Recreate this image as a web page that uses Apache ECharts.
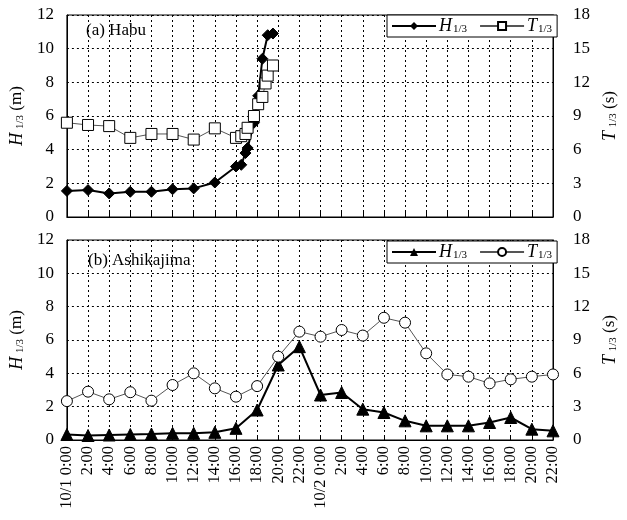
<!DOCTYPE html>
<html><head><meta charset="utf-8">
<script src="https://cdn.jsdelivr.net/npm/echarts@6/dist/echarts.min.js"></script>
<style>html,body{margin:0;padding:0;background:#fff}#c{width:627px;height:520px}</style>
</head><body><div id="c"></div>
<script>
// x tick labels (every 2 hours, 10/1 0:00 to 10/2 22:00)
const tickLabels = ['10/1 0:00','2:00','4:00','6:00','8:00','10:00','12:00','14:00','16:00','18:00','20:00','22:00',
  '10/2 0:00','2:00','4:00','6:00','8:00','10:00','12:00','14:00','16:00','18:00','20:00','22:00'];
// (a) Habu  (hours since 10/1 0:00)
const habuHTime = [0,2,4,6,8,10,12,14,16,16.5,16.9,17.1,17.7,18.1,18.5,19.0,19.5];
const habuH     = [1.55,1.6,1.4,1.5,1.5,1.65,1.7,2.05,3.0,3.1,3.8,4.1,5.6,7.2,9.4,10.8,10.9];
const habuTTime = [0,2,4,6,8,10,12,14,16,16.5,16.9,17.1,17.7,18.1,18.5,18.8,19.0,19.5];
const habuT     = [8.4,8.2,8.1,7.05,7.4,7.4,6.9,7.9,7.05,7.2,7.4,7.95,9.0,10.05,10.7,11.9,12.6,13.5];
// (b) Ashikajima
const ashiTime = [0,2,4,6,8,10,12,14,16,18,20,22,24,26,28,30,32,34,36,38,40,42,44,46];
const ashiH = [0.33,0.27,0.3,0.33,0.36,0.4,0.4,0.46,0.7,1.8,4.5,5.6,2.7,2.85,1.85,1.65,1.15,0.85,0.85,0.85,1.05,1.35,0.65,0.55];
const ashiT = [3.5,4.35,3.66,4.3,3.54,4.95,6.0,4.65,3.9,4.85,7.5,9.75,9.3,9.9,9.4,11.0,10.56,7.8,5.9,5.7,5.1,5.46,5.7,5.9];

const pairs = (xs, ys) => xs.map((x, i) => [x, ys[i]]);
const FONT = 'Liberation Serif';
const rich = {
  i: {fontFamily: FONT, fontStyle: 'italic', fontSize: 18, color: '#000'},
  s: {fontFamily: FONT, fontSize: 11, color: '#000', padding: [7, 0, 0, 1]},
  n: {fontFamily: FONT, fontSize: 17, color: '#000'}
};
const dotted = {color: '#000', width: 1, type: [2, 3]};

function xAxis(gi, labels) {
  return {
    type: 'value', gridIndex: gi, min: 0, max: 46, interval: 2,
    axisLine: {show: true, lineStyle: {color: '#000', width: 1}},
    axisTick: {show: true, inside: true, length: 5, lineStyle: {color: '#000'}},
    splitLine: {show: true, lineStyle: dotted},
    axisLabel: labels ? {
      show: true, rotate: 90, fontFamily: FONT, fontSize: 16.5, color: '#000', margin: 6,
      formatter: v => tickLabels[Math.round(v / 2)] || ''
    } : {show: false}
  };
}
function yLeft(gi) {
  return {
    type: 'value', gridIndex: gi, min: 0, max: 12, interval: 2, position: 'left',
    name: '{i|H}{s| 1/3}{n| (m)}', nameLocation: 'middle', nameGap: 37, nameRotate: 90,
    nameTextStyle: {rich},
    axisLine: {show: true, lineStyle: {color: '#000'}},
    axisTick: {show: false},
    splitLine: {show: true, lineStyle: dotted},
    axisLabel: {fontFamily: FONT, fontSize: 17, color: '#000', margin: 13}
  };
}
function yRight(gi) {
  return {
    type: 'value', gridIndex: gi, min: 0, max: 18, interval: 3, position: 'right',
    name: '{i|T}{s| 1/3}{n| (s)}', nameLocation: 'middle', nameGap: 46, nameRotate: 90,
    nameTextStyle: {rich},
    axisLine: {show: true, lineStyle: {color: '#000'}},
    axisTick: {show: false},
    splitLine: {show: false},
    axisLabel: {fontFamily: FONT, fontSize: 17, color: '#000', margin: 20}
  };
}
const legendNames = {
  'Habu H': '{i|H}{s|1/3}', 'Habu T': '{i|T}{s|1/3}',
  'Ashi H': '{i|H}{s|1/3}', 'Ashi T': '{i|T}{s|1/3}'
};
function legend(top, names) {
  return {
    data: names, left: 387, top: top, orient: 'horizontal',
    itemWidth: 44, itemHeight: 10, itemGap: 12,
    backgroundColor: '#fff', borderColor: '#000', borderWidth: 1, padding: [2, 5, 2, 4],
    formatter: n => legendNames[n],
    textStyle: {rich, padding: [0, 0, 0, -2]}
  };
}
const hLine = {color: '#000', width: 2};
const tLine = {color: '#555', width: 1};

const chart = echarts.init(document.getElementById('c'), null, {renderer: 'canvas'});
chart.setOption({
  animation: false,
  backgroundColor: '#fff',
  grid: [
    {left: 66, right: 74, top: 15, height: 202, show: true, borderColor: '#000', borderWidth: 1, backgroundColor: 'transparent'},
    {left: 66, right: 74, top: 240, height: 200, show: true, borderColor: '#000', borderWidth: 1, backgroundColor: 'transparent'}
  ],
  xAxis: [xAxis(0, false), xAxis(1, true)],
  yAxis: [yLeft(0), yRight(0), yLeft(1), yRight(1)],
  legend: [legend(15, ['Habu H', 'Habu T']), legend(241, ['Ashi H', 'Ashi T'])],
  graphic: [
    {type: 'text', left: 86, top: 22, style: {text: '(a) Habu', font: '17px "Liberation Serif"', fill: '#000'}},
    {type: 'text', left: 88, top: 252, style: {text: '(b) Ashikajima', font: '17px "Liberation Serif"', fill: '#000'}}
  ],
  series: [
    {name: 'Habu H', type: 'line', xAxisIndex: 0, yAxisIndex: 0, data: pairs(habuHTime, habuH),
     symbol: 'diamond', symbolSize: 11, lineStyle: hLine, itemStyle: {color: '#000', borderColor: '#000'}, z: 2},
    {name: 'Habu T', type: 'line', xAxisIndex: 0, yAxisIndex: 1, data: pairs(habuTTime, habuT),
     symbol: 'rect', symbolSize: 11, showAllSymbol: true, lineStyle: tLine, itemStyle: {color: '#fff', borderColor: '#000', borderWidth: 1}, z: 3},
    {name: 'Ashi H', type: 'line', xAxisIndex: 1, yAxisIndex: 2, data: pairs(ashiTime, ashiH),
     symbol: 'triangle', symbolSize: 12, lineStyle: hLine, itemStyle: {color: '#000', borderColor: '#000'}, z: 2},
    {name: 'Ashi T', type: 'line', xAxisIndex: 1, yAxisIndex: 3, data: pairs(ashiTime, ashiT),
     symbol: 'circle', symbolSize: 11, showAllSymbol: true, lineStyle: tLine, itemStyle: {color: '#fff', borderColor: '#000', borderWidth: 1}, z: 3}
  ]
});
</script></body></html>
